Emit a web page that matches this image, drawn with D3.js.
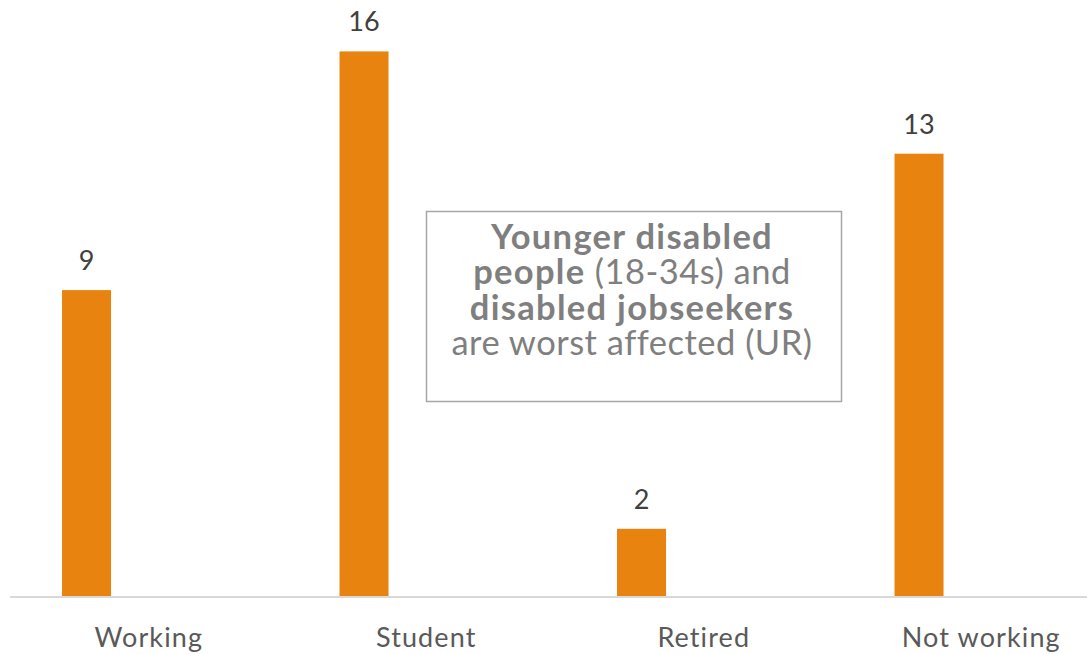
<!DOCTYPE html>
<html>
<head>
<meta charset="utf-8">
<script src="https://cdn.jsdelivr.net/npm/d3@7"></script>
<style>
  html, body { margin: 0; padding: 0; background: #ffffff; }
  svg { display: block; }
</style>
</head>
<body>
<svg id="chart" width="1087" height="654"></svg>
<script>
// Share of respondents by employment status
const categories = ["Working", "Student", "Retired", "Not working"];
const values = [9, 16, 2, 13];

// Callout text, one entry per line; bold runs flagged
const calloutLines = [
  [{ text: "Younger disabled", bold: true }],
  [{ text: "people", bold: true }, { text: " (18-34s) and", bold: false }],
  [{ text: "disabled jobseekers", bold: true }],
  [{ text: "are worst affected (UR)", bold: false }]
];

const svg = d3.select("#chart");
const FONT = "Lato, 'Open Sans', sans-serif";
const baseY = 597;

const x = d3.scaleBand().domain(categories).range([10, 1120]).padding(0);
const y = d3.scaleLinear().domain([0, 17.5]).range([baseY, 0.25]);

// bar sits in the left part of each category slot (clustered layout)
const barOffset = x.bandwidth() * 0.1875;
const barWidth = x.bandwidth() * 0.1766;

svg.append("g").selectAll("rect")
  .data(values)
  .join("rect")
  .attr("x", (d, i) => x(categories[i]) + barOffset)
  .attr("y", d => y(d))
  .attr("width", barWidth)
  .attr("height", d => baseY - y(d))
  .attr("fill", "#E8830F");

// value labels
svg.append("g").selectAll("text")
  .data(values)
  .join("text")
  .attr("x", (d, i) => x(categories[i]) + barOffset + barWidth / 2)
  .attr("y", d => y(d) - 20)
  .attr("text-anchor", "middle")
  .attr("font-family", FONT)
  .attr("font-size", 27)
  .attr("fill", "#404040")
  .text(d => d);

// category axis
const axis = svg.append("g")
  .attr("transform", `translate(0,${baseY})`)
  .call(d3.axisBottom(x).tickSize(0).tickPadding(0));
axis.select(".domain")
  .attr("d", "M10,0H1087")
  .attr("stroke", "#d9d9d9")
  .attr("stroke-width", 2);
axis.selectAll(".tick text")
  .attr("y", 49.5)
  .attr("dy", 0)
  .attr("font-family", FONT)
  .attr("font-size", 27)
  .attr("letter-spacing", 1.1)
  .attr("fill", "#595959");

// callout box
const box = { x: 426.5, y: 211.5, w: 415, h: 190 };
svg.append("rect")
  .attr("x", box.x).attr("y", box.y)
  .attr("width", box.w).attr("height", box.h)
  .attr("fill", "#ffffff")
  .attr("stroke", "#a6a6a6")
  .attr("stroke-width", 1.5);

const callout = svg.append("text")
  .attr("text-anchor", "middle")
  .attr("font-family", FONT)
  .attr("font-size", 34.5)
  .attr("fill", "#7f7f7f");

calloutLines.forEach((line, i) => {
  const t = callout.append("tspan")
    .attr("x", 632)
    .attr("y", 248.5 + i * 35.5);
  line.forEach(run => {
    t.append("tspan")
      .attr("font-weight", run.bold ? 700 : 400)
      .attr("letter-spacing", run.bold ? 1.3 : 0.5)
      .text(run.text);
  });
});
</script>
</body>
</html>
